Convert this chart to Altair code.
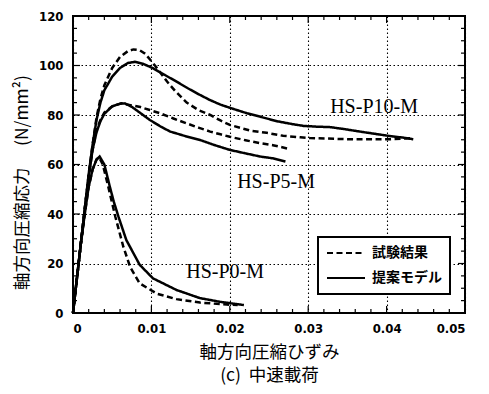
import altair as alt
import pandas as pd

# ---- data ----
p0_model_x = [0, 0.0005, 0.001, 0.0015, 0.002, 0.0025, 0.003, 0.0034, 0.004, 0.0047, 0.0052, 0.0058, 0.0068, 0.0085, 0.0102, 0.0132, 0.0162, 0.0188, 0.0218]
p0_model_y = [0, 14, 28, 40, 51, 58, 62, 63.2, 60, 51, 45, 38.9, 29.5, 19.5, 14, 9.3, 6, 4.5, 3.2]
p0_test_x = [0, 0.0005, 0.001, 0.0015, 0.002, 0.0025, 0.003, 0.0033, 0.0038, 0.0045, 0.0054, 0.0064, 0.0073, 0.0085, 0.0107, 0.0132, 0.0162, 0.0196, 0.021]
p0_test_y = [0, 14, 28, 40, 51, 58, 62, 63, 60, 51, 38.9, 27, 18.5, 12, 7.8, 5.6, 4.2, 3.4, 3.2]

p5_model_x = [0, 0.0005, 0.001, 0.0015, 0.002, 0.0025, 0.003, 0.0035, 0.004, 0.005, 0.006, 0.0066, 0.0075, 0.0085, 0.0098, 0.0112, 0.0124, 0.0143, 0.0162, 0.018, 0.02, 0.022, 0.0239, 0.0255, 0.0271]
p5_model_y = [0, 14, 28, 42, 55, 66, 73, 77.5, 80.5, 83.5, 84.6, 84.7, 83.3, 81, 78, 75.3, 73.3, 71.5, 69.9, 67.9, 65.9, 64.5, 63.2, 62.5, 61.2]
p5_test_x = [0, 0.0005, 0.001, 0.0015, 0.002, 0.0025, 0.003, 0.0035, 0.004, 0.005, 0.0062, 0.007, 0.0086, 0.0098, 0.0111, 0.0128, 0.0145, 0.016, 0.0175, 0.0188, 0.02, 0.022, 0.0239, 0.0255, 0.0273]
p5_test_y = [0, 14, 28, 42, 55, 66, 74, 78, 81, 83.5, 84.7, 84.2, 83.2, 82, 80.7, 78.6, 76.6, 74.9, 73.3, 72.2, 71.2, 69.8, 68.6, 67.8, 66.5]

p10_model_x = [0, 0.0005, 0.001, 0.0015, 0.002, 0.0025, 0.003, 0.0035, 0.004, 0.005, 0.006, 0.007, 0.0079, 0.009, 0.0102, 0.0117, 0.0132, 0.0147, 0.0162, 0.0175, 0.0188, 0.0205, 0.0222, 0.024, 0.026, 0.028, 0.0294, 0.031, 0.0328, 0.0346, 0.0366, 0.0385, 0.0404, 0.042, 0.0434]
p10_model_y = [0, 14, 28, 42, 56, 68, 78, 85, 90, 95.5, 99, 101, 101.5, 100.6, 98.9, 96.2, 93.5, 90.7, 88.1, 86, 84.2, 82.4, 80.7, 79.2, 77.5, 76.3, 75.6, 75.3, 75.1, 74.3, 73.3, 72.4, 71.5, 70.9, 70.2]
p10_test_x = [0, 0.0005, 0.001, 0.0015, 0.002, 0.0025, 0.003, 0.0035, 0.004, 0.005, 0.006, 0.007, 0.0077, 0.0085, 0.0092, 0.0098, 0.0105, 0.0111, 0.012, 0.013, 0.0145, 0.016, 0.0175, 0.0188, 0.02, 0.0226, 0.0247, 0.0268, 0.029, 0.0302, 0.0353, 0.0404, 0.043]
p10_test_y = [0, 14, 28, 42, 56, 68, 79, 86.5, 92, 99, 103.5, 105.8, 106.5, 106.2, 104.8, 102.5, 99.8, 97.3, 93.5, 89.8, 85, 82, 80, 77.8, 76, 73.7, 72.8, 71.6, 71, 70.7, 70.2, 70.2, 70.6]

legend_labels = ["試験結果", "提案モデル"]

label_texts = ["HS-P10-M", "HS-P5-M", "HS-P0-M"]
label_x = [0.0384, 0.0259, 0.0194]
label_y = [83.2, 52.9, 16.6]

x_major = [0, 0.01, 0.02, 0.03, 0.04, 0.05]
x_minor = [0.002, 0.004, 0.006, 0.008, 0.012, 0.014, 0.016, 0.018, 0.022, 0.024, 0.026, 0.028,
           0.032, 0.034, 0.036, 0.038, 0.042, 0.044, 0.046, 0.048]
y_major = [0, 20, 40, 60, 80, 100, 120]
y_minor = [5, 10, 15, 25, 30, 35, 45, 50, 55, 65, 70, 75, 85, 90, 95, 105, 110, 115]

# ---- build table ----
rows = []
series = [
    ("P0-model", legend_labels[1], p0_model_x, p0_model_y),
    ("P0-test", legend_labels[0], p0_test_x, p0_test_y),
    ("P5-model", legend_labels[1], p5_model_x, p5_model_y),
    ("P5-test", legend_labels[0], p5_test_x, p5_test_y),
    ("P10-model", legend_labels[1], p10_model_x, p10_model_y),
    ("P10-test", legend_labels[0], p10_test_x, p10_test_y),
]
for sid, kind, xs, ys in series:
    for i, (xv, yv) in enumerate(zip(xs, ys)):
        rows.append({"curve": sid, "kind": kind, "x": xv, "y": yv, "i": i})
df = pd.DataFrame(rows)

W, H = 392, 297
xscale = alt.Scale(domain=[0, 0.05], nice=False)
yscale = alt.Scale(domain=[0, 120], nice=False)

x_axis = alt.Axis(values=x_major, format="~g", grid=True, ticks=False, tickSize=0,
                  domain=False, labelPadding=9, labelFontSize=13, labelFontWeight="bold",
                  labelFont="DejaVu Sans Condensed", labelColor="black",
                  title=["軸方向圧縮ひずみ", "(c)\u00a0\u00a0中速載荷"],
                  titleFont="Noto Sans CJK JP", titleFontSize=17.5,
                  titleFontWeight="normal", titleColor="black",
                  titlePadding=8, titleLineHeight=23)
y_axis = alt.Axis(values=y_major, grid=True, ticks=False, tickSize=0,
                  domain=False, labelPadding=10, labelFontSize=13, labelFontWeight="bold",
                  labelFont="DejaVu Sans Condensed", labelColor="black",
                  title="軸方向圧縮応力\u3000  (N/mm²)",
                  titleFont="Noto Sans CJK JP", titleFontSize=17.5,
                  titleFontWeight="normal", titleColor="black",
                  titleX=-51, titleY=166, titleAngle=270,
                  titleBaseline="middle", titleAlign="center")

lines = alt.Chart(df).mark_line(strokeWidth=2.5, color="black").encode(
    x=alt.X("x:Q", scale=xscale, axis=x_axis),
    y=alt.Y("y:Q", scale=yscale, axis=y_axis),
    strokeDash=alt.StrokeDash("kind:N",
                              scale=alt.Scale(domain=legend_labels, range=[[6, 3.5], [1, 0]]),
                              legend=alt.Legend(title=None, orient="none", legendX=245, legendY=221,
                                                symbolType="stroke", symbolSize=1444,
                                                symbolStrokeWidth=2, symbolStrokeColor="black",
                                                labelFont="Noto Sans CJK JP", labelFontSize=14,
                                                labelFontWeight="bold", labelColor="black",
                                                labelOffset=6, rowPadding=9, padding=8,
                                                clipHeight=16,
                                                strokeColor="black", fillColor="white")),
    detail="curve:N",
    order="i:Q",
)

lab_df = pd.DataFrame({"t": label_texts, "x": label_x, "y": label_y})
labels = alt.Chart(lab_df).mark_text(font="Liberation Serif", fontSize=20, color="black").encode(
    x=alt.X("x:Q", scale=xscale, axis=x_axis),
    y=alt.Y("y:Q", scale=yscale, axis=y_axis),
    text="t:N",
)

def xticks(vals, length):
    d = pd.DataFrame({"v": vals})
    b = alt.Chart(d).mark_rule(color="black", strokeWidth=1.2).encode(
        x=alt.X("v:Q", scale=xscale, axis=x_axis), y=alt.value(H), y2=alt.value(H - length))
    t = alt.Chart(d).mark_rule(color="black", strokeWidth=1.2).encode(
        x=alt.X("v:Q", scale=xscale, axis=x_axis), y=alt.value(0), y2=alt.value(length))
    return [b, t]

def yticks(vals, length):
    d = pd.DataFrame({"v": vals})
    l = alt.Chart(d).mark_rule(color="black", strokeWidth=1.2).encode(
        y=alt.Y("v:Q", scale=yscale, axis=y_axis), x=alt.value(0), x2=alt.value(length))
    r = alt.Chart(d).mark_rule(color="black", strokeWidth=1.2).encode(
        y=alt.Y("v:Q", scale=yscale, axis=y_axis), x=alt.value(W), x2=alt.value(W - length))
    return [l, r]

tick_layers = xticks(x_major, 7) + xticks(x_minor, 4) + yticks(y_major, 7) + yticks(y_minor, 4)

chart = alt.layer(lines, labels, *tick_layers).properties(
    width=W, height=H,
    autosize=alt.AutoSizeParams(type="none"),
    padding={"left": 65, "top": 8, "right": 16, "bottom": 78},
).configure_view(
    stroke="black", strokeWidth=2
).configure_axis(
    gridColor="black", gridDash=[1.5, 2.5], gridWidth=1.1, gridOpacity=1
).configure_legend(
    strokeWidth=2
)

chart.save("out.html", embed_options={"renderer": "svg", "actions": False})
